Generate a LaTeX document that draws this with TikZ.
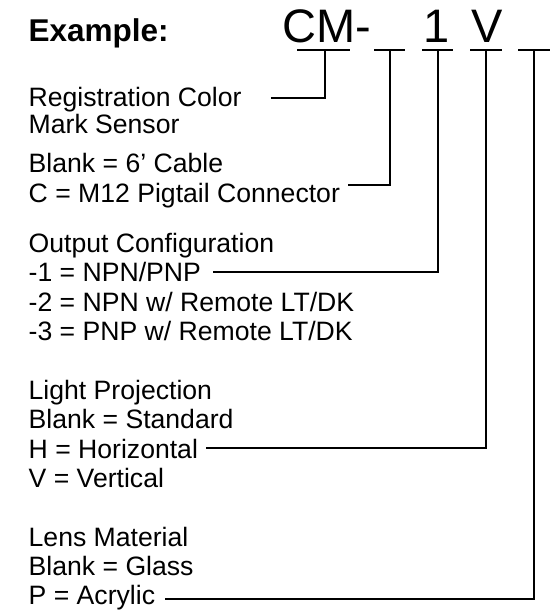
\documentclass[tikz,border=0pt]{standalone}
\usepackage{fontspec}
\setmainfont{Liberation Sans}
\usetikzlibrary{calc}
\begin{document}
\begin{tikzpicture}[x=1pt,y=-1pt,
  lbl/.style={anchor=base west,inner sep=0pt,font=\fontsize{26.6}{32}\selectfont,text=black},
  hdr/.style={anchor=base west,inner sep=0pt,font=\bfseries\fontsize{31.5}{38}\selectfont,text=black},
  big/.style={anchor=base,inner sep=0pt,font=\fontsize{47}{56}\selectfont,text=black},
  bar/.style={line width=2pt,draw=black},
  lead/.style={line width=2pt,draw=black}]
\useasboundingbox (0,0) rectangle (553,610);

% heading and code
\node[hdr] (ex) at (28.4,42) {Example:};
\node[big,anchor=base west] (cm) at (282.7,42.7) {CM-};
\node[big] (one) at (437,42.7) {1};
\node[big] (vee) at (487.5,42.7) {V};

% tee points on the bars
\coordinate (t1) at (325,50);
\coordinate (t2) at (390,50);
\coordinate (t3) at (438,50);
\coordinate (t4) at (486,50);
\coordinate (t5) at (534,50);

\draw[bar] ([xshift=-28pt]t1) -- ([xshift=25pt]t1);
\draw[bar] ([xshift=-16pt]t2) -- ([xshift=15pt]t2);
\draw[bar] ([xshift=-16pt]t3) -- ([xshift=15pt]t3);
\draw[bar] ([xshift=-16pt]t4) -- ([xshift=16pt]t4);
\draw[bar] ([xshift=-16pt]t5) -- ([xshift=16pt]t5);

% descriptions
\node[lbl] (reg1) at (28.5,106) {Registration Color};
\node[lbl] (reg2) at (28.5,133.3) {Mark Sensor};

\node[lbl] (cab1) at (28.5,172.3) {Blank = 6’ Cable};
\node[lbl] (cab2) at (28.5,202) {C = M12 Pigtail Connector};

\node[lbl] (out0) at (28.5,252.5) {Output Configuration};
\node[lbl] (out1) at (28.5,281) {-1 = NPN/PNP};
\node[lbl] (out2) at (28.5,311) {-2 = NPN w/ Remote LT/DK};
\node[lbl] (out3) at (28.5,340) {-3 = PNP w/ Remote LT/DK};

\node[lbl] (lp0) at (28.5,399) {Light Projection};
\node[lbl] (lp1) at (28.5,428.5) {Blank = Standard};
\node[lbl] (lp2) at (28.5,458) {H = Horizontal};
\node[lbl] (lp3) at (28.5,487.5) {V = Vertical};

\node[lbl] (lm0) at (28.5,546.5) {Lens Material};
\node[lbl] (lm1) at (28.5,575.5) {Blank = Glass};
\node[lbl] (lm2) at (28.5,604.5) {P = Acrylic};

% leader start points
\coordinate (s1) at ($(reg1.base east)+(29,-8)$);
\coordinate (s2) at ($(cab2.base east)+(8,-17)$);
\coordinate (s3) at ($(out1.base east)+(12,-9)$);
\coordinate (s4) at ($(lp2.base east)+(8,-10)$);
\coordinate (s5) at ($(lm2.base east)+(10,-6)$);

\draw[lead] (s1) -| (t1);
\draw[lead] (s2) -| (t2);
\draw[lead] (s3) -| (t3);
\draw[lead] (s4) -| (t4);
\draw[lead] (s5) -| (t5);
\end{tikzpicture}
\end{document}
